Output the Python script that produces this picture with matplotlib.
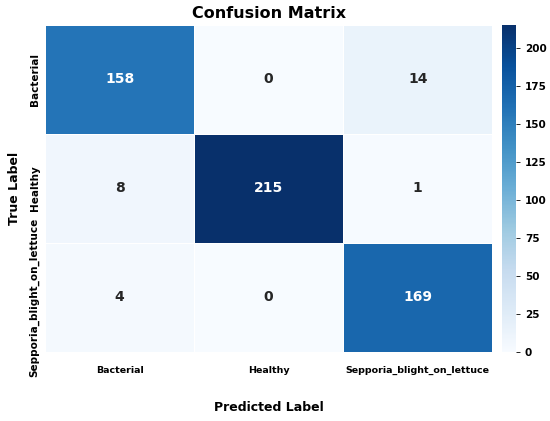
import numpy as np
import seaborn as sns
from matplotlib import pyplot as plt

# class names and confusion matrix values
classes = ['Bacterial', 'Healthy', 'Sepporia_blight_on_lettuce']
row_bacterial = [158, 0, 14]
row_healthy = [8, 215, 1]
row_sepporia = [4, 0, 169]
cbar_ticks = [0, 25, 50, 75, 100, 125, 150, 175, 200]

cm = np.array([row_bacterial, row_healthy, row_sepporia])

fig = plt.figure(figsize=(5.5, 4.21), dpi=100)
ax = fig.add_axes([0.082, 0.164, 0.813, 0.777])
cax = fig.add_axes([0.913, 0.164, 0.025, 0.777])

sns.heatmap(cm, annot=True, fmt='d', cmap='Blues', ax=ax, cbar_ax=cax,
            vmin=0, vmax=cm.max(), linewidths=0.6, linecolor='white',
            annot_kws={'fontsize': 10, 'fontweight': 'bold'},
            xticklabels=classes, yticklabels=classes,
            cbar_kws={'ticks': cbar_ticks})

ax.set_title('Confusion Matrix', fontsize=11.5, fontweight='bold', pad=5)
ax.set_xlabel('Predicted Label', fontsize=9, fontweight='bold', labelpad=19)
ax.set_ylabel('True Label', fontsize=9, fontweight='bold', labelpad=6)

ax.tick_params(axis='x', length=0, pad=10, labelsize=6.8)
ax.tick_params(axis='y', length=0, pad=4, labelsize=7.5)
for lab in ax.get_xticklabels():
    lab.set_fontweight('bold')
    lab.set_rotation(0)
for lab in ax.get_yticklabels():
    lab.set_fontweight('bold')
    lab.set_rotation(90)
    lab.set_va('center')

cax.tick_params(labelsize=7.5, length=3, width=0.6)
for lab in cax.get_yticklabels():
    lab.set_fontweight('bold')
for sp in cax.spines.values():
    sp.set_visible(False)

plt.savefig('out.png', dpi=100)
